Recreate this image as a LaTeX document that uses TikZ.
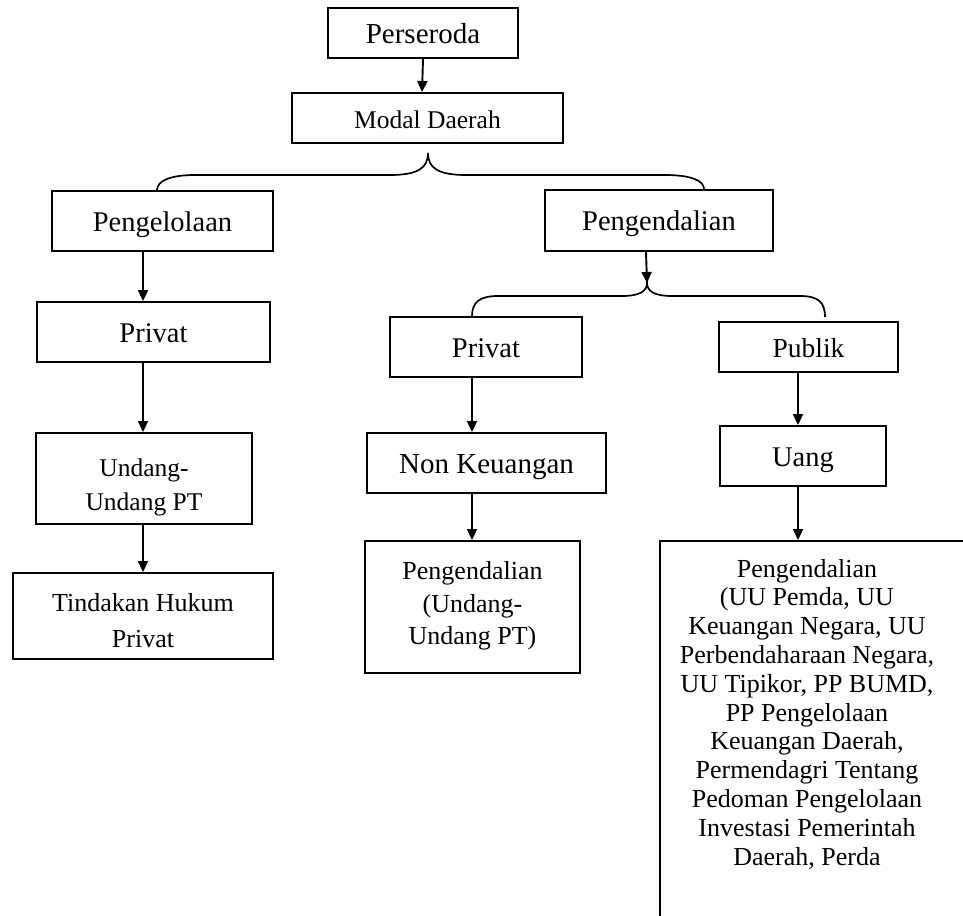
\documentclass[tikz,border=0pt]{standalone}
\usepackage{fontspec}
\setmainfont{Liberation Serif}
\usetikzlibrary{arrows.meta}
\newcommand{\fs}[1]{\fontsize{#1}{1.2\dimexpr#1pt\relax}\selectfont}
\begin{document}
\begin{tikzpicture}[x=1pt,y=-1pt,
  box/.style={draw, line width=1.9pt, rectangle, inner sep=0pt, align=center,
    text height=20pt, text depth=0pt},
  lowtext/.style={text height=21pt, text depth=0pt},
  arr/.style={line width=1.9pt, -{Triangle[length=11pt,width=10pt]}},
  brace/.style={line width=1.7pt}]
\useasboundingbox[fill=white] (0,0) rectangle (963,915);

% top of the chart
\node[box, lowtext, minimum width=190pt, minimum height=50pt, font=\fs{29}] (pers) at (423,33) {Perseroda};
\node[box, lowtext, minimum width=271pt, minimum height=50pt, font=\fs{25.5}] (modal) at (427.5,118) {Modal Daerah};

% left branch
\node[box, minimum width=221pt, minimum height=60pt, font=\fs{28.5}] (kelola) at (162.5,221) {Pengelolaan};
\node[box, minimum width=233pt, minimum height=60pt, font=\fs{28.5}] (privL) at (153.5,332) {Privat};
\node[box, minimum width=216pt, minimum height=91pt] (uupt) at (144,478.5) {};
\node[font={\fontsize{25.5}{34}\selectfont}, align=center] (uupttxt) at (144,487.5) {Undang-\\Undang PT};
\node[box, minimum width=260pt, minimum height=86pt] (hukum) at (143,616) {};
\node[font={\fontsize{26}{36}\selectfont}, align=center] (hukumtxt) at (143,621) {Tindakan Hukum\\Privat};

% right branch
\node[box, minimum width=228pt, minimum height=61pt, font=\fs{28.5}] (kendali) at (659,220.5) {Pengendalian};
\node[box, minimum width=192pt, minimum height=60pt, font=\fs{28.5}] (privR) at (486,347) {Privat};
\node[box, minimum width=239pt, minimum height=60pt, font=\fs{29}] (nonkeu) at (486.5,463) {Non Keuangan};
\node[box, minimum width=215pt, minimum height=132pt] (kendpt) at (472.5,607) {};
\node[font={\fontsize{26}{32.5}\selectfont}, align=center] (kendpttxt) at (472.5,606) {Pengendalian\\(Undang-\\Undang PT)};
\node[box, lowtext, minimum width=179pt, minimum height=50pt, font=\fs{27.5}] (publik) at (808.5,347) {Publik};
\node[box, minimum width=166pt, minimum height=60pt, font=\fs{28.5}] (uang) at (803,456) {Uang};

% large regulation box running past the page edge
\node[box, minimum width=330pt, minimum height=400pt] (law) at (825,741) {};
\node[font={\fontsize{26}{28.8}\selectfont}, align=center] (lawtxt) at (807,714)
  {Pengendalian\\(UU Pemda, UU\\Keuangan Negara, UU\\Perbendaharaan Negara,\\UU Tipikor, PP BUMD,\\PP Pengelolaan\\Keuangan Daerah,\\Permendagri Tentang\\Pedoman Pengelolaan\\Investasi Pemerintah\\Daerah, Perda};

% column positions of the vertical arrows
\coordinate (colA) at (143,0);
\coordinate (colB) at (472,0);
\coordinate (colC) at (798,0);

% arrows
\draw[arr] (pers.south -| 423,0) -- (modal.north -| 422,0);
\draw[arr] (kelola.south -| colA) -- (privL.north -| colA);
\draw[arr] (privL.south -| colA) -- (uupt.north -| colA);
\draw[arr] (uupt.south -| colA) -- (hukum.north -| colA);
\draw[arr] (privR.south -| colB) -- (nonkeu.north -| colB);
\draw[arr] (nonkeu.south -| colB) -- (kendpt.north -| colB);
\draw[arr] (publik.south -| colC) -- (uang.north -| colC);
\draw[arr] (uang.south -| colC) -- (law.north -| colC);

% brace under Modal Daerah
\coordinate (b1peak) at (428,153);
\draw[brace] (kelola.north -| 157,0) .. controls (157,181) and (170,175) .. (195,175)
  -- (390,175) .. controls (418,175) and (428,168) .. (b1peak)
  .. controls (428,168) and (438,175) .. (466,175)
  -- (665,175) .. controls (692,175) and (704,181) .. (kendali.north -| 704,0);

% brace under Pengendalian
\coordinate (b2peak) at (647,283);
\coordinate (b2right) at (825,317);
\draw[arr] (kendali.south -| 646,0) -- (b2peak);
\draw[brace] (privR.north -| colB) .. controls (472,302) and (480,296) .. (498,296)
  -- (622,296) .. controls (640,296) and (647,291) .. (b2peak)
  .. controls (647,291) and (654,296) .. (672,296)
  -- (800,296) .. controls (818,296) and (825,302) .. (b2right);
\end{tikzpicture}
\end{document}
